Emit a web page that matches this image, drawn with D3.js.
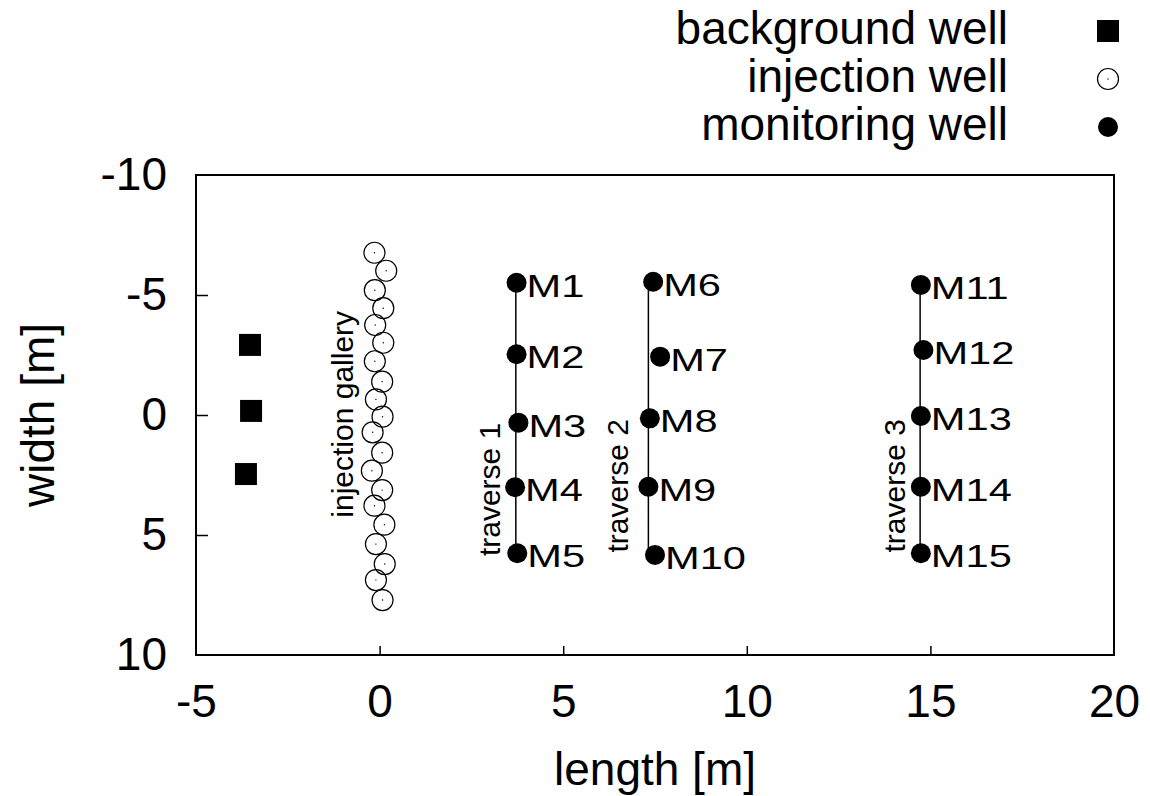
<!DOCTYPE html>
<html>
<head>
<meta charset="utf-8">
<script src="https://cdn.jsdelivr.net/npm/d3@7"></script>
<style>
  html, body { margin: 0; padding: 0; background: #fff; }
  svg { display: block; }
  text { font-family: "Liberation Sans", Arial, Helvetica, sans-serif; fill: #000; }
</style>
</head>
<body>
<svg id="chart" width="1150" height="796"></svg>
<script>
// Well positions, length (x) and width (y) in metres
const backgroundX = [-3.53, -3.50, -3.64];
const backgroundY = [-2.92, -0.17, 2.46];

const injectionX = [-0.14, 0.18, -0.13, 0.10, -0.12, 0.10, -0.13, 0.07, -0.10, 0.08,
                    -0.19, 0.07, -0.21, 0.07, -0.14, 0.13, -0.10, 0.14, -0.10, 0.08];
const injectionY = [-6.76, -6.01, -5.20, -4.45, -3.75, -3.01, -2.24, -1.39, -0.65, 0.07,
                     0.72, 1.57, 2.32, 3.13, 3.78, 4.57, 5.38, 6.21, 6.88, 7.71];

const monitoringNames = ["M1", "M2", "M3", "M4", "M5", "M6", "M7", "M8", "M9", "M10",
                         "M11", "M12", "M13", "M14", "M15"];
const monitoringX = [3.73, 3.73, 3.78, 3.69, 3.75, 7.45, 7.64, 7.36, 7.32, 7.50,
                     14.74, 14.81, 14.74, 14.74, 14.74];
const monitoringY = [-5.51, -2.53, 0.32, 3.01, 5.76, -5.55, -2.43, 0.14, 2.99, 5.83,
                     -5.42, -2.71, 0.04, 2.99, 5.76];

// Traverse lines: position along length and extent across width
const traverseNames = ["traverse 1", "traverse 2", "traverse 3"];
const traverseX = [3.71, 7.32, 14.72];
const traverseY0 = [-5.51, -5.55, -5.42];
const traverseY1 = [5.76, 5.83, 5.76];
// label anchor points (baseline along length, centre along width)
const traverseLabelX = [3.28, 6.76, 14.31];
const traverseLabelY = [3.1, 2.95, 2.95];

const galleryLabel = "injection gallery";
const galleryLabelX = -0.72;
const galleryLabelY = -0.03;

const xTicks = [-5, 0, 5, 10, 15, 20];
const yTicks = [-10, -5, 0, 5, 10];
const legendLabels = ["background well", "injection well", "monitoring well"];

const svg = d3.select("#chart");
const plotLeft = 196, plotRight = 1114, plotTop = 175, plotBottom = 655;

const x = d3.scaleLinear().domain([-5, 20]).range([plotLeft, plotRight]);
const y = d3.scaleLinear().domain([-10, 10]).range([plotTop, plotBottom]);

// Axes with inward ticks; the frame draws the end ticks
const plainNumber = d => String(d);
const xAxis = d3.axisBottom(x).tickValues(xTicks).tickFormat(plainNumber)
  .tickSizeInner(-9).tickSizeOuter(0).tickPadding(29);
const yAxis = d3.axisLeft(y).tickValues(yTicks).tickFormat(plainNumber)
  .tickSizeInner(-12).tickSizeOuter(0).tickPadding(29);

const gx = svg.append("g").attr("transform", `translate(0,${plotBottom})`).call(xAxis);
const gy = svg.append("g").attr("transform", `translate(${plotLeft},0)`).call(yAxis);
[gx, gy].forEach(g => {
  g.select(".domain").remove();
  g.selectAll(".tick line").attr("stroke", "#000").attr("stroke-width", 1.5);
  g.selectAll(".tick text").style("font-size", "46px").attr("fill", "#000")
    .style("font-family", "'Liberation Sans', Arial, sans-serif");
});
gx.selectAll(".tick line").filter(d => d === -5 || d === 20).remove();
gy.selectAll(".tick line").filter(d => d === -10 || d === 10).remove();

// Plot frame
svg.append("rect")
  .attr("x", plotLeft).attr("y", plotTop)
  .attr("width", plotRight - plotLeft).attr("height", plotBottom - plotTop)
  .attr("fill", "none").attr("stroke", "#000").attr("stroke-width", 2);

// Axis titles
svg.append("text")
  .attr("x", 655).attr("y", 785)
  .attr("text-anchor", "middle").style("font-size", "46px")
  .text("length [m]");
svg.append("text")
  .attr("transform", `translate(54,${y(0)}) rotate(-90)`)
  .attr("text-anchor", "middle").style("font-size", "46px")
  .text("width [m]");

// Traverse lines
svg.append("g").selectAll("line").data(traverseX)
  .join("line")
  .attr("x1", d => x(d)).attr("x2", d => x(d))
  .attr("y1", (d, i) => y(traverseY0[i])).attr("y2", (d, i) => y(traverseY1[i]))
  .attr("stroke", "#000").attr("stroke-width", 1.5);

// Traverse labels
svg.append("g").selectAll("text").data(traverseNames)
  .join("text")
  .attr("transform", (d, i) => `translate(${x(traverseLabelX[i])},${y(traverseLabelY[i])}) rotate(-90)`)
  .attr("text-anchor", "middle").style("font-size", "30px")
  .text(d => d);

// Gallery label
svg.append("text")
  .attr("transform", `translate(${x(galleryLabelX)},${y(galleryLabelY)}) rotate(-90)`)
  .attr("text-anchor", "middle").style("font-size", "30px")
  .text(galleryLabel);

// Background wells
svg.append("g").selectAll("rect").data(backgroundX)
  .join("rect")
  .attr("x", d => x(d) - 11).attr("y", (d, i) => y(backgroundY[i]) - 11)
  .attr("width", 22).attr("height", 22).attr("fill", "#000");

// Injection wells: open circles with a centre point
const inj = svg.append("g");
inj.selectAll("circle.ring").data(injectionX)
  .join("circle").attr("class", "ring")
  .attr("cx", d => x(d)).attr("cy", (d, i) => y(injectionY[i]))
  .attr("r", 10.5).attr("fill", "none").attr("stroke", "#000").attr("stroke-width", 1.2);
inj.selectAll("circle.pt").data(injectionX)
  .join("circle").attr("class", "pt")
  .attr("cx", d => x(d)).attr("cy", (d, i) => y(injectionY[i]))
  .attr("r", 0.7).attr("fill", "#000");

// Monitoring wells
svg.append("g").selectAll("circle").data(monitoringX)
  .join("circle")
  .attr("cx", d => x(d)).attr("cy", (d, i) => y(monitoringY[i]))
  .attr("r", 10).attr("fill", "#000");
svg.append("g").selectAll("text").data(monitoringNames)
  .join("text")
  .attr("transform", (d, i) => `translate(${x(monitoringX[i]) + 10},${y(monitoringY[i]) + 14}) scale(1.3,1)`)
  .style("font-size", "32px")
  .text(d => d);

// Legend
const legendRowY = [31, 79, 127];
const legendSymX = 1108;
const lg = svg.append("g");
lg.selectAll("text").data(legendLabels)
  .join("text")
  .attr("x", 1008).attr("y", (d, i) => legendRowY[i] + 13)
  .attr("text-anchor", "end").style("font-size", "46px")
  .text(d => d);
lg.append("rect")
  .attr("x", legendSymX - 11).attr("y", legendRowY[0] - 11)
  .attr("width", 22).attr("height", 22).attr("fill", "#000");
lg.append("circle")
  .attr("cx", legendSymX).attr("cy", legendRowY[1]).attr("r", 10.5)
  .attr("fill", "none").attr("stroke", "#000").attr("stroke-width", 1.2);
lg.append("circle")
  .attr("cx", legendSymX).attr("cy", legendRowY[1]).attr("r", 0.7).attr("fill", "#000");
lg.append("circle")
  .attr("cx", legendSymX).attr("cy", legendRowY[2]).attr("r", 10).attr("fill", "#000");
</script>
</body>
</html>
